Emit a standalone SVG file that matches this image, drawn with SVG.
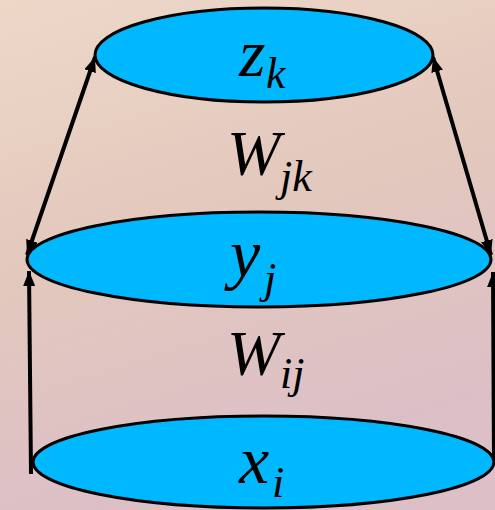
<svg xmlns="http://www.w3.org/2000/svg" width="495" height="510" viewBox="0 0 495 510">
<defs>
<linearGradient id="bg" x1="0" y1="0" x2="0.3" y2="1">
<stop offset="0" stop-color="#edd8c8"/>
<stop offset="0.5" stop-color="#e3c8bd"/>
<stop offset="1" stop-color="#dcbfc7"/>
</linearGradient>
<marker id="ah" viewBox="0 0 15 12" refX="15" refY="6" markerWidth="15" markerHeight="12" markerUnits="userSpaceOnUse" orient="auto-start-reverse">
<path d="M0,0 L15,6 L0,12 Z" fill="#000"/>
</marker>
<style>
.node{fill:#00b8ff;stroke:#000;stroke-width:3}
.conn{stroke:#000;stroke-width:4;fill:none}
.lbl{font-family:"Liberation Serif","Times New Roman",serif;font-style:italic;fill:#000}
.big{font-size:68px}
.wt{font-size:64px}
.sub{font-size:44px}
</style>
</defs>
<rect width="495" height="510" fill="url(#bg)"/>
<g id="connectors">
<line class="conn" x1="95" y1="57" x2="27" y2="255" marker-start="url(#ah)" marker-end="url(#ah)"/>
<line class="conn" x1="433" y1="57" x2="491" y2="255" marker-start="url(#ah)" marker-end="url(#ah)"/>
<line class="conn" x1="31" y1="474" x2="29" y2="271" marker-end="url(#ah)"/>
<line class="conn" x1="494" y1="462" x2="493" y2="272" marker-end="url(#ah)"/>
</g>
<g id="z">
<ellipse class="node" cx="264" cy="55" rx="169" ry="47"/>
<text class="lbl"><tspan class="big" x="239" y="76">z</tspan><tspan class="sub" x="266" y="88">k</tspan></text>
</g>
<g id="y">
<ellipse class="node" cx="259" cy="259.5" rx="232" ry="47.5"/>
<text class="lbl"><tspan class="big" x="230" y="277">y</tspan><tspan class="sub" x="264" y="293">j</tspan></text>
</g>
<g id="x">
<ellipse class="node" cx="263.5" cy="462" rx="230.5" ry="46"/>
<text class="lbl"><tspan class="big" x="239" y="483">x</tspan><tspan class="sub" x="272" y="497">i</tspan></text>
</g>
<g id="wjk">
<text class="lbl"><tspan class="wt" x="227" y="175">W</tspan><tspan class="sub" x="280" y="191">jk</tspan></text>
</g>
<g id="wij">
<text class="lbl"><tspan class="wt" x="227" y="375">W</tspan><tspan class="sub" x="280" y="388">ij</tspan></text>
</g>
</svg>
